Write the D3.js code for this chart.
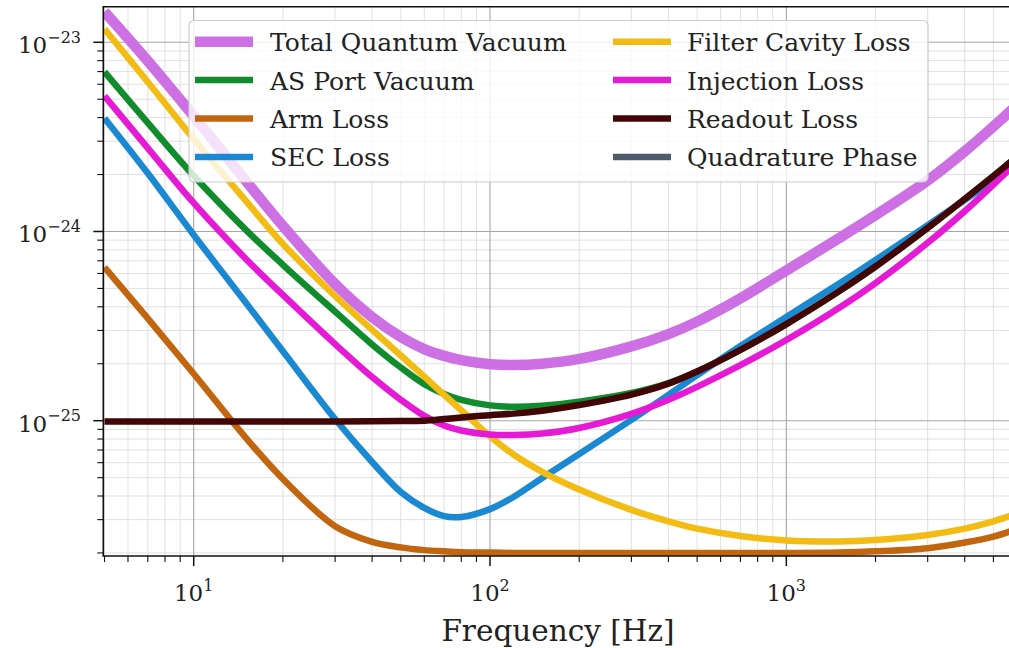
<!DOCTYPE html>
<html><head><meta charset="utf-8">
<script src="https://cdn.jsdelivr.net/npm/d3@7"></script>
<style>
body{margin:0;background:#fff;overflow:hidden}
svg{display:block}
text{font-family:'DejaVu Serif',serif;fill:#222}
</style>
</head><body>
<svg id="chart" width="1009" height="648"></svg>
<script>
// ---------------- data ----------------
const freqs = [5,7,10,15,20,30,40,50,60,70,80,100,120,150,200,300,400,500,700,1000,1500,2000,3000,4000,5000,6000];

const totalQuantumVacuum = [1.45e-23,7.96e-24,4.07e-24,1.85e-24,1.07e-24,5.28e-25,3.53e-25,2.77e-25,2.39e-25,2.20e-25,2.09e-25,1.99e-25,1.97e-25,2.00e-25,2.12e-25,2.47e-25,2.87e-25,3.34e-25,4.43e-25,6.22e-25,9.18e-25,1.22e-24,1.86e-24,2.65e-24,3.59e-24,4.66e-24];
const asPortVacuum = [6.97e-24,3.75e-24,1.97e-24,1.02e-24,6.67e-25,3.77e-25,2.53e-25,1.91e-25,1.56e-25,1.385e-25,1.29e-25,1.205e-25,1.185e-25,1.20e-25,1.26e-25,1.40e-25,1.58e-25,1.82e-25,2.37e-25,3.24e-25,4.81e-25,6.53e-25,1.045e-24,1.485e-24,1.965e-24,2.48e-24];
const armLoss = [6.47e-25,3.47e-25,1.77e-25,8.11e-26,4.92e-26,2.77e-26,2.29e-26,2.14e-26,2.07e-26,2.04e-26,2.02e-26,2.01e-26,2.00e-26,2.00e-26,2.00e-26,2.00e-26,2.00e-26,2.00e-26,2.00e-26,2.00e-26,2.01e-26,2.04e-26,2.12e-26,2.27e-26,2.44e-26,2.68e-26];
const secLoss = [3.97e-24,2.03e-24,9.59e-25,4.20e-25,2.33e-25,1.02e-25,6.05e-26,4.20e-26,3.46e-26,3.13e-26,3.10e-26,3.41e-26,3.95e-26,4.98e-26,6.67e-26,1.01e-25,1.37e-25,1.74e-25,2.48e-25,3.53e-25,5.28e-25,7.07e-25,1.08e-24,1.467e-24,1.87e-24,2.30e-24];
const filterCavityLoss = [1.176e-23,6.17e-24,3.08e-24,1.45e-24,8.59e-25,4.56e-25,3.02e-25,2.21e-25,1.71e-25,1.37e-25,1.136e-25,8.28e-26,6.63e-26,5.37e-26,4.33e-26,3.38e-26,2.94e-26,2.69e-26,2.46e-26,2.33e-26,2.30e-26,2.34e-26,2.49e-26,2.69e-26,2.94e-26,3.23e-26];
const injectionLoss = [5.20e-24,2.76e-24,1.415e-24,7.16e-25,4.62e-25,2.54e-25,1.70e-25,1.29e-25,1.06e-25,9.43e-26,8.87e-26,8.45e-26,8.40e-26,8.55e-26,9.15e-26,1.086e-25,1.29e-25,1.51e-25,1.965e-25,2.67e-25,3.93e-25,5.34e-25,8.71e-25,1.28e-24,1.77e-24,2.32e-24];
const readoutLoss = [9.90e-26,9.90e-26,9.90e-26,9.90e-26,9.90e-26,9.90e-26,9.92e-26,9.95e-26,1.00e-25,1.02e-25,1.04e-25,1.07e-25,1.09e-25,1.13e-25,1.21e-25,1.374e-25,1.57e-25,1.82e-25,2.37e-25,3.24e-25,4.81e-25,6.53e-25,1.045e-24,1.485e-24,1.965e-24,2.48e-24];
// Quadrature Phase curve lies outside the visible range of the plot
const quadraturePhase = [];

const seriesNames = ["Total Quantum Vacuum","AS Port Vacuum","Arm Loss","SEC Loss","Filter Cavity Loss","Injection Loss","Readout Loss","Quadrature Phase"];
const seriesValues = [totalQuantumVacuum, asPortVacuum, armLoss, secLoss, filterCavityLoss, injectionLoss, readoutLoss, quadraturePhase];

const xMajorTicks = [10,100,1000];
const xMinorTicks = [5,6,7,8,9,20,30,40,50,60,70,80,90,200,300,400,500,600,700,800,900,2000,3000,4000,5000];
const xTickExponents = ["1","2","3"];
const yMajorTicks = [1e-25,1e-24,1e-23];
const yMinorTicks = [2e-26,3e-26,4e-26,5e-26,6e-26,7e-26,8e-26,9e-26,2e-25,3e-25,4e-25,5e-25,6e-25,7e-25,8e-25,9e-25,2e-24,3e-24,4e-24,5e-24,6e-24,7e-24,8e-24,9e-24];
const yTickExponents = ["\u221225","\u221224","\u221223"];
const xAxisTitle = "Frequency [Hz]";

// ---------------- styles ----------------
const colors = ["#cd70e4","#118c2c","#c1660f","#1b88d2","#f2bc14","#e51ad4","#420606","#4d5b6a"];
const widths = [10.5,6.5,6.5,6.5,6.5,6.5,6.5,6.5];

const L = 103.3, R = 1011.3, T = 6.7, B = 556;

const svg = d3.select("#chart");
const x = d3.scaleLog().domain([4.953, 5745]).range([L, R]);
const y = d3.scaleLog().domain([1.927e-26, 1.542e-23]).range([B, T]);

svg.append("rect").attr("width",1009).attr("height",648).attr("fill","#fff");

// grid
const g = svg.append("g");
g.selectAll(".vmin").data(xMinorTicks).enter().append("line")
  .attr("x1",d=>x(d)).attr("x2",d=>x(d)).attr("y1",T).attr("y2",B)
  .attr("stroke","#dcdcdc").attr("stroke-width",0.9);
g.selectAll(".hmin").data(yMinorTicks).enter().append("line")
  .attr("y1",d=>y(d)).attr("y2",d=>y(d)).attr("x1",L).attr("x2",R)
  .attr("stroke","#dcdcdc").attr("stroke-width",0.9);
g.selectAll(".vmaj").data(xMajorTicks).enter().append("line")
  .attr("x1",d=>x(d)).attr("x2",d=>x(d)).attr("y1",T).attr("y2",B)
  .attr("stroke","#a6a6a6").attr("stroke-width",1.1);
g.selectAll(".hmaj").data(yMajorTicks).enter().append("line")
  .attr("y1",d=>y(d)).attr("y2",d=>y(d)).attr("x1",L).attr("x2",R)
  .attr("stroke","#a6a6a6").attr("stroke-width",1.1);

// clip
svg.append("clipPath").attr("id","clip").append("rect")
  .attr("x",L).attr("y",T).attr("width",R-L).attr("height",B-T);

const line = d3.line().x(d=>x(d[0])).y(d=>y(d[1])).curve(d3.curveCatmullRom.alpha(0.5));
const lg = svg.append("g").attr("clip-path","url(#clip)");
seriesValues.forEach((vals,i)=>{
  if(!vals.length) return;
  lg.append("path").datum(freqs.map((f,k)=>[f,vals[k]]))
    .attr("d",line).attr("fill","none").attr("stroke",colors[i])
    .attr("stroke-width",widths[i]).attr("stroke-linejoin","round").attr("stroke-linecap","butt");
});

// spines
svg.append("line").attr("x1",L).attr("x2",L).attr("y1",T).attr("y2",B).attr("stroke","#111").attr("stroke-width",1.6);
svg.append("line").attr("x1",L-0.8).attr("x2",R).attr("y1",B).attr("y2",B).attr("stroke","#111").attr("stroke-width",1.6);
svg.append("line").attr("x1",L-0.8).attr("x2",R).attr("y1",T).attr("y2",T).attr("stroke","#111").attr("stroke-width",1.6);

// ticks
svg.selectAll(".xtmaj").data(xMajorTicks).enter().append("line")
  .attr("x1",d=>x(d)).attr("x2",d=>x(d)).attr("y1",B).attr("y2",B+10).attr("stroke","#111").attr("stroke-width",1.5);
svg.selectAll(".xtmin").data(xMinorTicks).enter().append("line")
  .attr("x1",d=>x(d)).attr("x2",d=>x(d)).attr("y1",B).attr("y2",B+6).attr("stroke","#111").attr("stroke-width",1.1);
svg.selectAll(".ytmaj").data(yMajorTicks).enter().append("line")
  .attr("y1",d=>y(d)).attr("y2",d=>y(d)).attr("x1",L).attr("x2",L-10).attr("stroke","#111").attr("stroke-width",1.5);
svg.selectAll(".ytmin").data(yMinorTicks).enter().append("line")
  .attr("y1",d=>y(d)).attr("y2",d=>y(d)).attr("x1",L).attr("x2",L-6).attr("stroke","#111").attr("stroke-width",1.1);

// tick labels
xMajorTicks.forEach((t,i)=>{
  const tx = svg.append("text").attr("x",x(t)).attr("y",601).attr("text-anchor","middle").attr("font-size",23);
  tx.append("tspan").text("10");
  tx.append("tspan").attr("dy",-10.5).attr("font-size",16).text(xTickExponents[i]);
});
yMajorTicks.forEach((t,i)=>{
  const ty = svg.append("text").attr("x",81).attr("y",y(t)+11).attr("text-anchor","end").attr("font-size",23);
  ty.append("tspan").text("10");
  ty.append("tspan").attr("dy",-10.5).attr("font-size",16).text(yTickExponents[i]);
});

svg.append("text").attr("x",558).attr("y",641).attr("text-anchor","middle").attr("font-size",29.5).text(xAxisTitle);

// legend
const leg = svg.append("g");
leg.append("rect").attr("x",189).attr("y",20.5).attr("width",739).attr("height",161.5).attr("rx",5)
  .attr("fill","#fff").attr("fill-opacity",0.8).attr("stroke","#cccccc").attr("stroke-width",1.2);
const colX = [195, 613], textX = [270, 687];
seriesNames.forEach((n,i)=>{
  const c = Math.floor(i/4), r = i%4;
  const cy = 41.7 + r*38.4;
  leg.append("line").attr("x1",colX[c]).attr("x2",colX[c]+58).attr("y1",cy).attr("y2",cy)
    .attr("stroke",colors[i]).attr("stroke-width",widths[i]);
  leg.append("text").attr("x",textX[c]).attr("y",cy+9.5).attr("font-size",25).text(n);
});
</script>
</body></html>
